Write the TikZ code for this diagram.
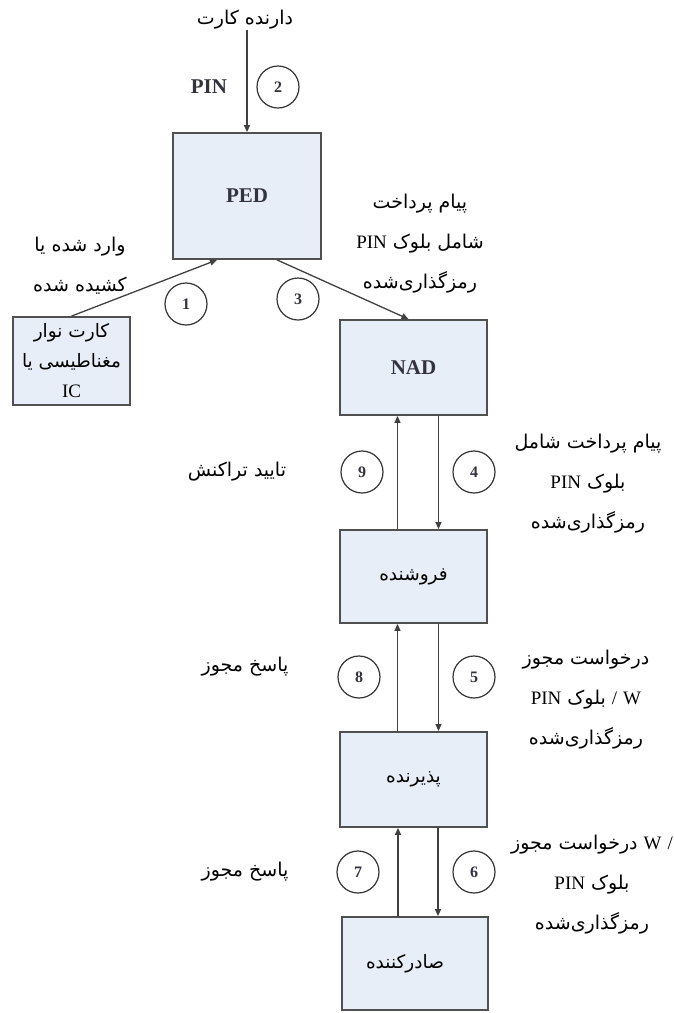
\documentclass[tikz,border=0pt]{standalone}
\usepackage{fontspec}
\setmainfont{Liberation Serif}
\newfontfamily\fa[Script=Arabic]{DejaVu Sans}
\TeXXeTstate=1
\usetikzlibrary{arrows.meta,calc}
\definecolor{boxfill}{HTML}{E8EEF7}
\definecolor{boxline}{HTML}{505050}
\definecolor{arrline}{HTML}{404040}
\definecolor{numcol}{HTML}{33333F}
\newcommand{\Rtl}[1]{\beginR #1\endR}
\newcommand{\lt}[1]{\beginL{\rmfamily\fontsize{19}{19}\selectfont #1}\endL{}}
\begin{document}
\begin{tikzpicture}[x=1pt,y=-1pt,
  box/.style={draw=boxline,line width=1.8pt,fill=boxfill,minimum width=147pt,inner sep=0pt,align=center},
  boxtxt/.style={font=\fa\fontsize{18.5}{22}\selectfont},
  num/.style={circle,draw=black!80,line width=1.2pt,fill=white,minimum size=42pt,inner sep=0pt,font=\fontsize{16}{16}\selectfont\bfseries,text=numcol},
  lbl/.style={font=\fa\fontsize{19}{40}\selectfont,align=center,inner sep=0pt},
  ttl/.style={font=\fontsize{21}{21}\selectfont\bfseries,text=numcol},
  arr/.style={draw=arrline,line width=1.3pt,-{Triangle[length=7pt,width=6pt]}}]
\useasboundingbox (0,0) rectangle (673,1013);

% boxes
\node[box,ttl,minimum height=126pt,minimum width=148pt] (PED) at (247,196) {PED};
\node[box,minimum width=117pt,minimum height=88pt,font=\fa\fontsize{18.5}{30}\selectfont] (card) at (71.5,361)
  {\Rtl{کارت نوار}\\ \Rtl{مغناطیسی یا}\\ \lt{IC}};
\node[box,ttl,minimum height=95pt] (NAD) at (413.5,367.5) {NAD};
\node[box,boxtxt,minimum height=93pt] (FOR) at (413.5,576.5) {\Rtl{فروشنده}};
\node[box,boxtxt,minimum height=95pt] (ACQ) at (413.5,779.5) {\Rtl{پذیرنده}};
\node[box,boxtxt,minimum height=93pt,minimum width=146pt] (ISS) at (415,963.5) {\Rtl{صادرکننده}\hspace*{20pt}};

% labels
\node[lbl] (holder) at (245,20) {\Rtl{دارنده کارت}};
\node[ttl] (pin) at (209,87) {PIN};
\node[lbl] (l1) at (80,266) {\Rtl{وارد شده یا}\\ \Rtl{کشیده شده}};
\node[lbl] (l3) at (420,244) {\Rtl{پیام پرداخت}\\ \Rtl{شامل بلوک \lt{PIN}}\\ \Rtl{رمزگذاری‌شده}};
\node[lbl] (l9) at (237,472) {\Rtl{تایید تراکنش}};
\node[lbl] (l4) at (588,484) {\Rtl{پیام پرداخت شامل}\\ \Rtl{بلوک \lt{PIN}}\\ \Rtl{رمزگذاری‌شده}};
\node[lbl] (l8) at (245,667) {\Rtl{پاسخ مجوز}};
\node[lbl] (l5) at (586,700) {\Rtl{درخواست مجوز}\\ \Rtl{\lt{W} \lt{/} بلوک \lt{PIN}}\\ \Rtl{رمزگذاری‌شده}};
\node[lbl] (l7) at (245,872) {\Rtl{پاسخ مجوز}};
\node[lbl] (l6) at (592,885) {\Rtl{\lt{/} \lt{W} درخواست مجوز}\\ \Rtl{بلوک \lt{PIN}}\\ \Rtl{رمزگذاری‌شده}};

% number circles
\node[num] (n2) at (278,87) {2};
\node[num] (n1) at (186,304) {1};
\node[num] (n3) at (298,299) {3};
\node[num] (n9) at (362,472) {9};
\node[num] (n4) at (474,472) {4};
\node[num] (n8) at (359,677) {8};
\node[num] (n5) at (474,677) {5};
\node[num] (n7) at (358,872) {7};
\node[num] (n6) at (474,872) {6};

% connectors
\draw[arr] (holder.south -| PED.north) -- (PED.north);
\draw[arr] (card.north) -- ([xshift=-30pt]PED.south);
\draw[arr] ([xshift=30pt]PED.south) -- ([xshift=-5pt]NAD.north);
\draw[arr] ([xshift=-16pt]FOR.north) -- ([xshift=-16pt]NAD.south);
\draw[arr] ([xshift=25pt]NAD.south) -- ([xshift=25pt]FOR.north);
\draw[arr] ([xshift=-16pt]ACQ.north) -- ([xshift=-16pt]FOR.south);
\draw[arr] ([xshift=25pt]FOR.south) -- ([xshift=25pt]ACQ.north);
\draw[arr] ([xshift=-17pt]ISS.north) -- ([xshift=-17pt]ISS.north |- ACQ.south);
\draw[arr] ([xshift=23pt]ISS.north |- ACQ.south) -- ([xshift=23pt]ISS.north);
\end{tikzpicture}
\end{document}
